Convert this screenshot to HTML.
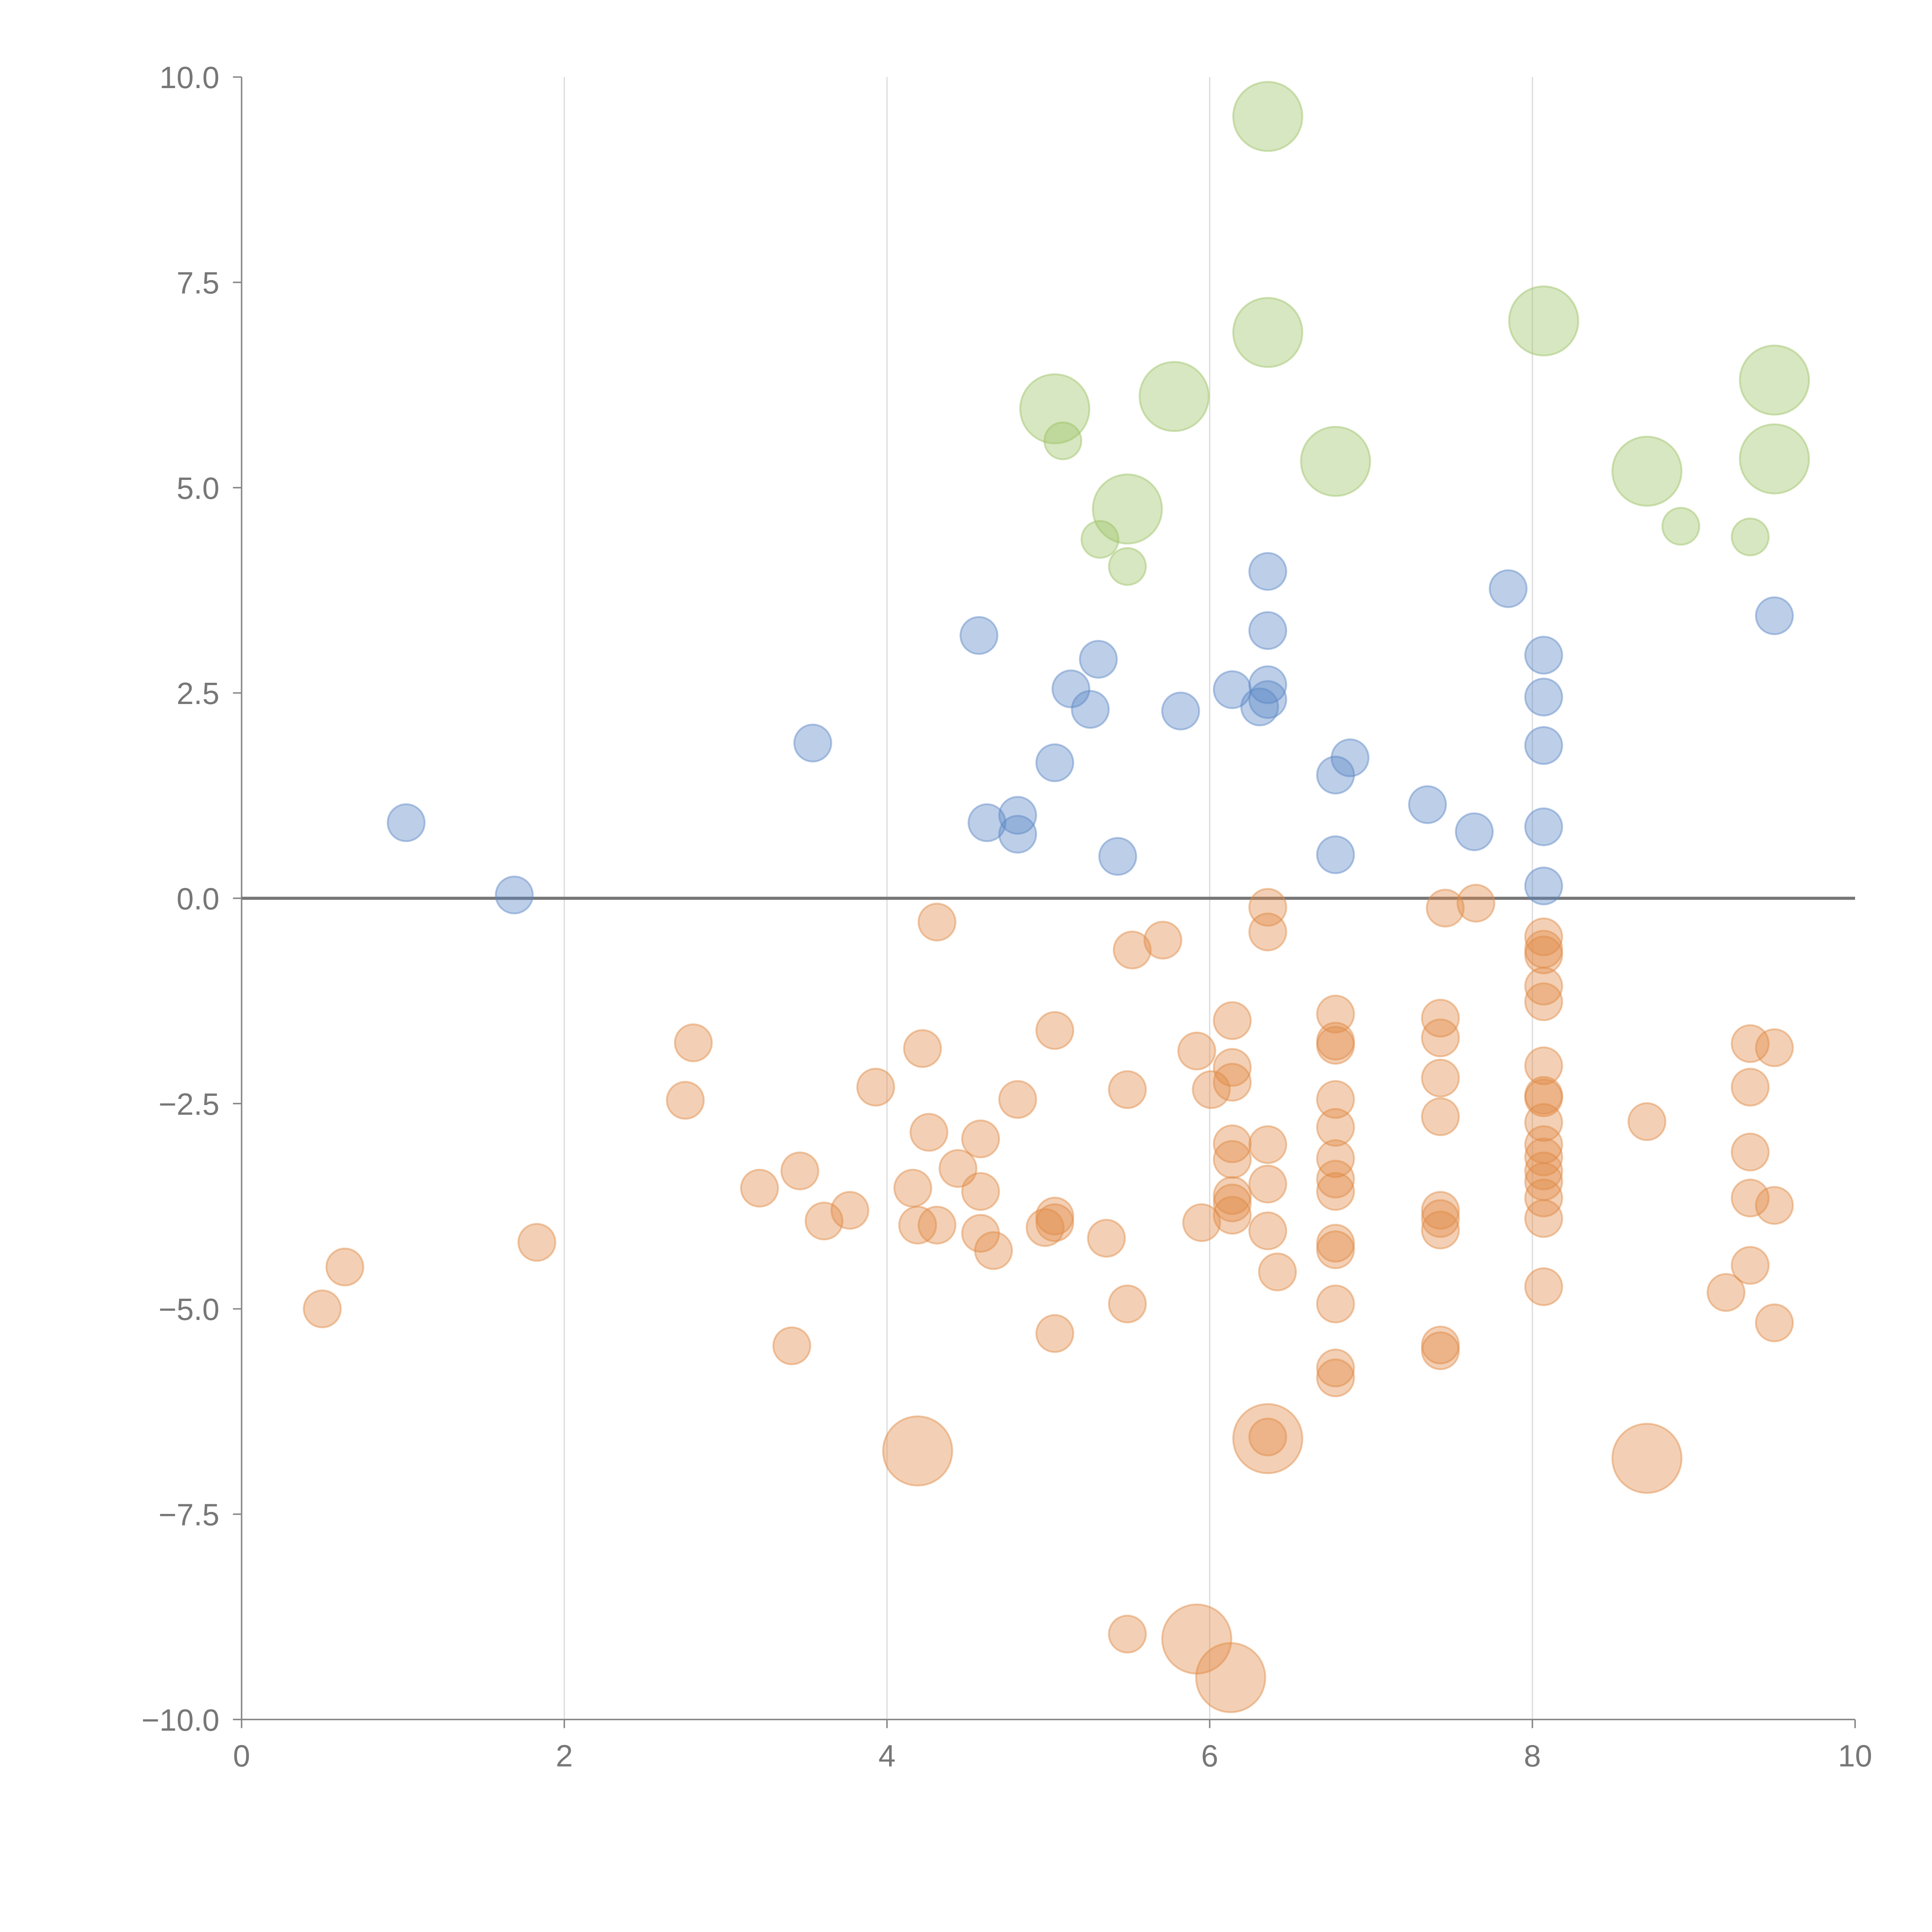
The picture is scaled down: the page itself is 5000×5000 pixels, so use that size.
<!DOCTYPE html>
<html><head><meta charset="utf-8"><style>
html,body{margin:0;padding:0;background:#fff;width:5000px;height:5000px;overflow:hidden}
svg{display:block}
text{font-family:"Liberation Sans",sans-serif;fill:#777;font-size:25px}
</style></head><body>
<svg id="chart" width="5000" height="5000" viewBox="0 0 1567.4 1567.4" xmlns="http://www.w3.org/2000/svg">
<g id="grid"></g>
<g id="axes"></g>
<g id="marks"></g>
</svg>
<script>
const xTicks=[0,2,4,6,8,10];
const yTicks=[10,7.5,5,2.5,0,-2.5,-5,-7.5,-10];
const yTickLabels=["10.0","7.5","5.0","2.5","0.0","\u22122.5","\u22125.0","\u22127.5","\u221210.0"];
const blueX=[1.02,1.69,3.54,4.57,4.62,4.81,4.81,5.04,5.14,5.26,5.31,5.43,5.82,6.14,6.31,6.36,6.36,6.36,6.36,6.78,6.78,6.87,7.35,7.64,7.85,8.07,8.07,8.07,8.07,8.07,9.50];
const blueY=[0.92,0.04,1.89,3.20,0.92,1.01,0.78,1.65,2.55,2.30,2.91,0.51,2.28,2.54,2.33,3.98,3.26,2.60,2.42,1.50,0.53,1.71,1.14,0.81,3.77,2.96,2.45,1.86,0.87,0.15,3.44];
const greenX=[6.36,6.36,8.07,5.78,5.04,5.09,9.50,6.78,8.71,9.50,5.49,5.32,5.49,8.92,9.35];
const greenY=[9.52,6.89,7.03,6.11,5.96,5.57,6.31,5.32,5.20,5.35,4.74,4.37,4.04,4.53,4.40];
const greenS=[3.5,3.5,3.5,3.5,3.5,1,3.5,3.5,3.5,3.5,3.5,1,1,1,1];
const orangeX=[6.36,6.36,7.46,7.65,4.31,5.71,5.52,8.07,8.07,8.07,8.07,8.07,6.14,6.78,6.78,6.78,7.43,7.43,7.43,7.43,5.04,2.80,4.22,5.92,6.14,6.14,6.01,3.93,5.49,4.81,2.75,8.07,8.07,8.07,8.07,8.07,8.07,8.07,8.07,8.07,8.07,8.07,6.78,6.78,6.78,6.78,6.78,6.78,6.78,6.78,6.78,6.78,8.71,9.35,9.50,9.35,9.35,9.35,9.50,9.35,9.20,9.50,4.26,4.58,4.44,3.46,3.21,4.16,4.58,3.77,3.61,4.19,4.31,4.58,4.66,4.98,5.04,5.04,5.36,5.95,6.14,6.14,6.14,6.14,6.14,6.36,6.36,6.36,6.42,7.43,7.43,7.43,7.43,7.43,1.83,0.64,0.50,5.49,5.04,3.41,6.36,5.49,4.19,6.36,8.71,5.92,6.13];
const orangeY=[-0.11,-0.41,-0.12,-0.06,-0.29,-0.51,-0.63,-0.47,-0.62,-0.69,-1.07,-1.26,-1.49,-1.41,-1.74,-1.79,-1.46,-1.70,-2.19,-2.66,-1.61,-1.76,-1.83,-1.86,-2.06,-2.24,-2.33,-2.30,-2.33,-2.45,-2.46,-2.04,-2.40,-2.43,-2.73,-3.00,-3.15,-3.32,-3.45,-3.65,-3.90,-4.73,-2.45,-2.79,-3.17,-3.42,-3.57,-4.20,-4.28,-4.94,-5.72,-5.84,-2.72,-1.77,-1.82,-2.30,-3.09,-3.65,-3.74,-4.47,-4.80,-5.17,-2.85,-2.93,-3.29,-3.32,-3.53,-3.53,-3.57,-3.80,-3.93,-3.98,-3.98,-4.08,-4.29,-4.01,-3.87,-3.95,-4.14,-3.95,-2.99,-3.18,-3.62,-3.71,-3.86,-3.00,-3.48,-4.05,-4.55,-3.80,-3.90,-4.04,-5.44,-5.51,-4.19,-4.49,-5.00,-4.94,-5.30,-5.45,-6.56,-8.96,-6.73,-6.58,-6.82,-9.02,-9.49];
const orangeS=orangeY.map((v,i)=>i>=orangeY.length-5?3.5:1);

const NS="http://www.w3.org/2000/svg";
const X0=196,X1=1505,YT=62.5,YB=1395;
const sx=v=>X0+(v-0)/(10-0)*(X1-X0);
const sy=v=>YB-(v+10)/20*(YB-YT);
const sr=s=>15*Math.sqrt(s);
function mk(t,a,parent){const e=document.createElementNS(NS,t);for(const k in a)e.setAttribute(k,a[k]);parent.appendChild(e);return e;}
const grid=document.getElementById('grid'),axes=document.getElementById('axes'),marks=document.getElementById('marks');
[2,4,6,8].forEach(v=>{const l=mk('line',{x1:sx(v),x2:sx(v),y1:YT,y2:YB,stroke:'#dcdcdc','stroke-width':1},grid);

});
let a=mk('line',{x1:X0,x2:X0,y1:YT,y2:YB,stroke:'#888','stroke-width':1.2},axes);


a=mk('line',{x1:X0,x2:X1,y1:YB,y2:YB,stroke:'#888','stroke-width':1.2},axes);


xTicks.forEach(v=>{const t=mk('line',{x1:sx(v),x2:sx(v),y1:YB,y2:YB+7,stroke:'#888','stroke-width':1.2},axes);


const tx=mk('text',{x:sx(v),y:YB+38,'text-anchor':'middle'},axes);tx.textContent=String(v);

});
yTicks.forEach((v,i)=>{const t=mk('line',{x1:X0-7,x2:X0,y1:sy(v),y2:sy(v),stroke:'#888','stroke-width':1.2},axes);


const tx=mk('text',{x:X0-18,y:sy(v)+9,'text-anchor':'end'},axes);tx.textContent=yTickLabels[i];

});
function series(xs,ys,ss,fill,stroke,name){xs.forEach((x,i)=>{const c=mk('circle',{cx:sx(x),cy:sy(ys[i]),r:sr(ss?ss[i]:1),fill:fill,'fill-opacity':0.4,stroke:stroke,'stroke-opacity':0.45,'stroke-width':1.5},marks);

});}
series(orangeX,orangeY,orangeS,'#e08a45','#e08a45','orange-bubble');
series(blueX,blueY,null,'#5b86c6','#5b86c6','blue-bubble');
series(greenX,greenY,greenS,'#9cc264','#9cc264','green-bubble');
const zl=mk('line',{x1:X0,x2:X1,y1:sy(0),y2:sy(0),stroke:'#777','stroke-width':2.5},axes);


</script>
</body></html>
